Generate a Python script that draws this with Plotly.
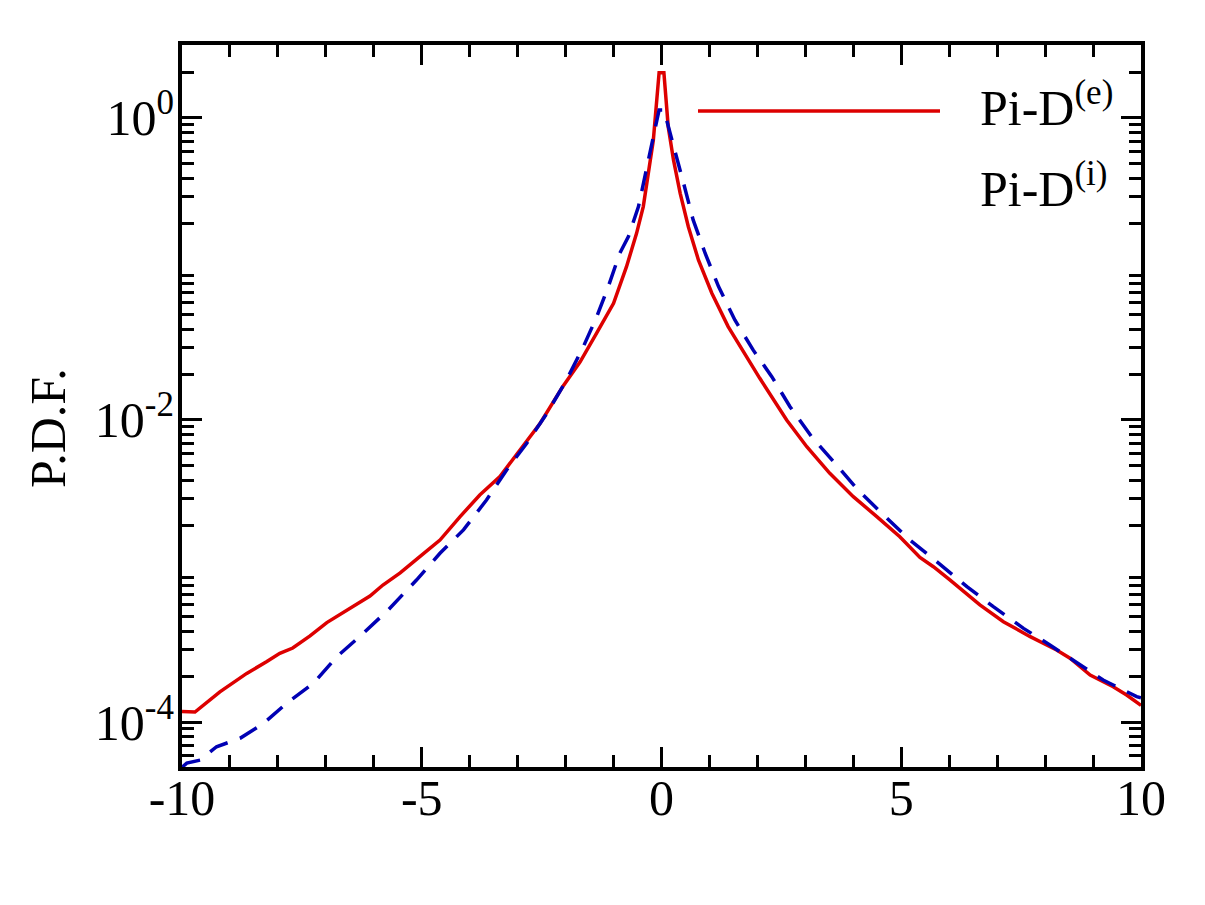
import plotly.graph_objects as go

# ---- data ----
x_e = [-10.0, -9.73, -9.21, -8.65, -8.23, -7.96, -7.69, -7.33, -6.98, -6.50, -6.08, -5.81,
       -5.45, -5.04, -4.62, -4.20, -3.79, -3.37, -2.95, -2.53, -2.05, -1.70, -1.35, -1.00,
       -0.73, -0.52, -0.38, -0.24, -0.17, -0.05, 0.05, 0.14, 0.25, 0.39, 0.56, 0.77, 1.05,
       1.39, 1.81, 2.05, 2.61, 3.03, 3.51, 4.00, 4.49, 4.97, 5.39, 5.67, 6.02, 6.64, 7.13,
       7.69, 8.24, 8.52, 8.94, 9.42, 9.70, 9.94, 10.0]
pdf_e = [1.175e-4, 1.164e-4, 1.585e-4, 2.099e-4, 2.512e-4, 2.851e-4, 3.090e-4, 3.715e-4,
         4.550e-4, 5.689e-4, 6.823e-4, 8.072e-4, 9.705e-4, 1.245e-3, 1.603e-3, 2.291e-3,
         3.184e-3, 4.217e-3, 6.324e-3, 9.506e-3, 1.68e-2, 2.42e-2, 3.77e-2, 5.929e-2,
         0.1035, 0.1722, 0.2588, 0.5012, 0.7145, 1.995, 1.995, 0.8750, 0.5272, 0.3170,
         0.1905, 0.1148, 0.06902, 0.04150, 0.02495, 0.01888, 0.01, 6.653e-3, 4.436e-3,
         3.105e-3, 2.291e-3, 1.687e-3, 1.230e-3, 1.067e-3, 8.710e-4, 5.957e-4, 4.613e-4,
         3.673e-4, 2.999e-4, 2.642e-4, 2.046e-4, 1.714e-4, 1.510e-4, 1.330e-4, 1.288e-4]

x_i = [-10.0, -9.90, -9.62, -9.28, -8.79, -8.30, -7.82, -7.26, -6.77, -6.22, -5.70, -5.11,
       -4.62, -4.13, -3.65, -3.23, -2.81, -2.39, -1.98, -1.63, -1.35, -1.11, -0.87, -0.69,
       -0.48, -0.31, -0.17, -0.05, 0.05, 0.28, 0.46, 0.66, 0.91, 1.19, 1.53, 1.91, 2.30,
       2.68, 3.13, 3.62, 4.10, 4.63, 5.18, 5.74, 6.37, 6.92, 7.55, 8.10, 8.80, 9.21, 9.91,
       10.0]
pdf_i = [5.01e-5, 5.346e-5, 5.598e-5, 6.855e-5, 7.798e-5, 9.795e-5, 1.330e-4, 1.803e-4,
         2.710e-4, 3.864e-4, 5.521e-4, 8.710e-4, 1.309e-3, 1.871e-3, 2.951e-3, 4.667e-3,
         7.015e-3, 1.107e-2, 1.841e-2, 3.055e-2, 4.831e-2, 7.638e-2, 0.1271, 0.1637,
         0.2588, 0.4529, 0.7516, 1.130, 1.130, 0.6138, 0.3698, 0.2113, 0.1271, 0.07638,
         0.04592, 0.02911, 0.01936, 0.01225, 7.745e-3, 5.164e-3, 3.436e-3, 2.350e-3,
         1.603e-3, 1.153e-3, 7.870e-4, 5.808e-4, 4.169e-4, 3.236e-4, 2.323e-4, 1.897e-4,
         1.472e-4, 1.445e-4]

x_tickvals = [-10, -5, 0, 5, 10]
x_ticktext = ["-10", "-5", "0", "5", "10"]
x_minor = [-9, -8, -7, -6, -4, -3, -2, -1, 1, 2, 3, 4, 6, 7, 8, 9]
y_tickvals = [1e-4, 1e-2, 1e0]
y_ticktext = ["10<sup>-4</sup>", "10<sup>-2</sup>", "10<sup>0</sup>"]
y_unlabeled = [1e-3, 1e-1]
y_minor = [m * 10.0 ** d for d in range(-5, 1) for m in range(2, 10)]

legend_labels = ["Pi-D<sup>(e)</sup>", "Pi-D<sup>(i)</sup>"]

RED = "#dd0000"
BLUE = "#0000b4"
FONT = "Liberation Serif"
Y_RANGE = [-4.298, 0.483]

fig = go.Figure()
fig.add_trace(go.Scatter(x=x_e, y=pdf_e, mode="lines",
                         line=dict(color=RED, width=3.5), showlegend=False))
fig.add_trace(go.Scatter(x=x_i, y=pdf_i, mode="lines",
                         line=dict(color=BLUE, width=3.5, dash="20px,13px"),
                         showlegend=False))

L, R, T, B = 182, 64, 45, 138
W, H = 1205, 905
pw, ph = W - L - R, H - T - B

def px(xp):
    return (xp - L) / pw

def py(yp):
    return (H - B - yp) / ph

tick_common = dict(ticks="inside", ticklen=20, tickwidth=3, tickcolor="black")
minor_common = dict(ticks="inside", ticklen=12, tickwidth=3, tickcolor="black",
                    showgrid=False)

fig.update_layout(
    width=W, height=H,
    margin=dict(l=L, r=R, t=T, b=B),
    paper_bgcolor="white", plot_bgcolor="white",
    font=dict(family=FONT, size=50, color="black"),
    xaxis=dict(range=[-10, 10], showgrid=False, zeroline=False,
               showline=True, linewidth=4, linecolor="black", mirror="ticks",
               tickmode="array", tickvals=x_tickvals, ticktext=x_ticktext,
               tickfont=dict(family=FONT, size=50, color="black"),
               ticklabelstandoff=-16,
               minor=dict(tickmode="array", tickvals=x_minor, **minor_common),
               **tick_common),
    yaxis=dict(type="log", range=Y_RANGE, showgrid=False, zeroline=False,
               showline=True, linewidth=4, linecolor="black", mirror="ticks",
               tickmode="array", tickvals=y_tickvals, ticktext=y_ticktext,
               tickfont=dict(family=FONT, size=50, color="black"),
               ticklabelstandoff=-6,
               minor=dict(tickmode="array", tickvals=y_minor, **minor_common),
               **tick_common),
    yaxis2=dict(type="log", range=Y_RANGE, overlaying="y", anchor="x", side="left",
                showgrid=False, zeroline=False, showline=True, linewidth=4,
                linecolor="black", mirror="ticks", showticklabels=False,
                tickmode="array", tickvals=y_unlabeled, **tick_common),
)

# y-axis title
fig.add_annotation(text="P.D.F.", xref="paper", yref="paper",
                   x=px(48), y=py(428), xanchor="center", yanchor="middle",
                   textangle=-90, showarrow=False,
                   font=dict(family=FONT, size=50, color="black"))

# legend (manual)
fig.add_shape(type="line", xref="paper", yref="paper",
              x0=px(698), x1=px(940), y0=py(111), y1=py(111),
              line=dict(color=RED, width=3.5))
fig.add_annotation(text=legend_labels[0], xref="paper", yref="paper",
                   x=px(978), y=py(104), xanchor="left", yanchor="middle",
                   showarrow=False, font=dict(family=FONT, size=50, color="black"))
fig.add_annotation(text=legend_labels[1], xref="paper", yref="paper",
                   x=px(978), y=py(185), xanchor="left", yanchor="middle",
                   showarrow=False, font=dict(family=FONT, size=50, color="black"))

fig.write_html("out.html")
